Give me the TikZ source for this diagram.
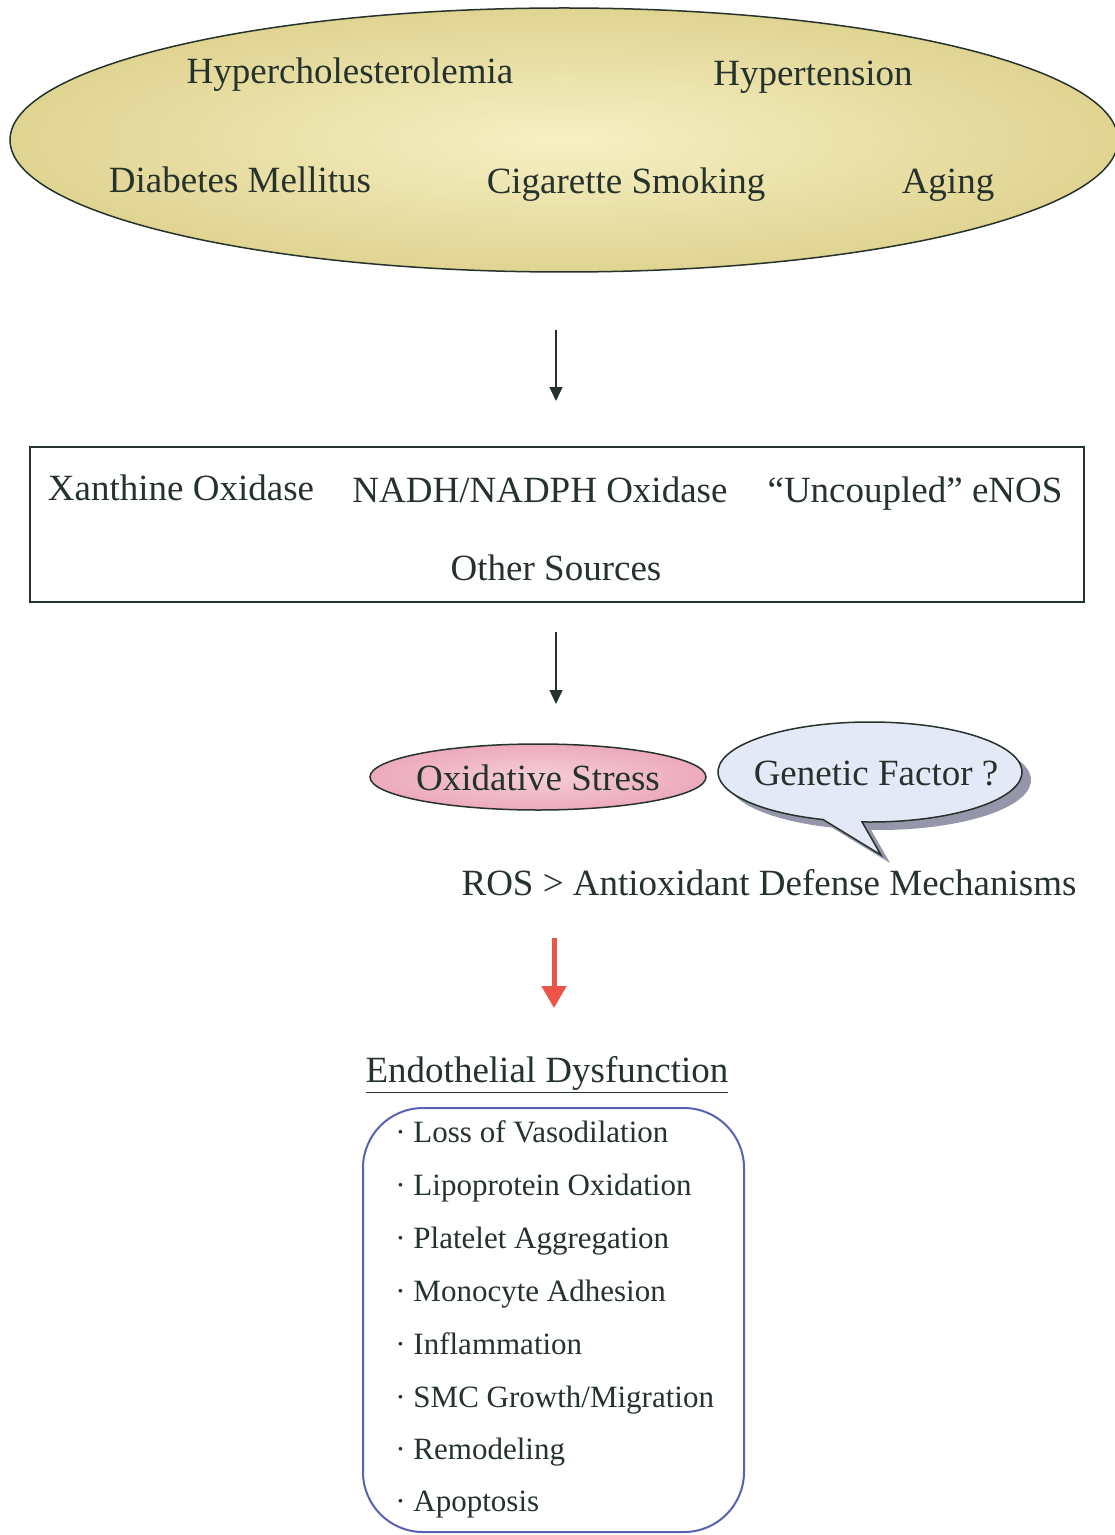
\documentclass[tikz,border=0pt]{standalone}
\usepackage{fontspec}
\setmainfont{Liberation Serif}
\usetikzlibrary{arrows.meta}

\definecolor{ink}{RGB}{38,50,44}
\definecolor{khakilight}{RGB}{246,240,196}
\definecolor{khakidark}{RGB}{224,212,146}
\definecolor{roselight}{RGB}{246,206,216}
\definecolor{rose}{RGB}{236,170,188}
\definecolor{sky}{RGB}{228,233,247}
\definecolor{shadowgray}{RGB}{150,150,170}
\definecolor{listblue}{RGB}{88,98,178}
\definecolor{arrowred}{RGB}{236,84,72}

\tikzset{
  lbl/.style={text=ink, inner sep=0pt, anchor=base, font=\fontsize{18.5}{22}\selectfont},
  item/.style={text=ink, inner sep=0pt, anchor=base west, font=\fontsize{15.5}{19}\selectfont},
  flow/.style={draw=ink, line width=0.75pt, -{Triangle[width=6.5pt,length=7pt]}},
  hot/.style={draw=arrowred, line width=2.5pt, -{Triangle[width=12pt,length=11pt]}}
}

\begin{document}
\begin{tikzpicture}[x=0.5pt,y=-0.5pt]
   \useasboundingbox (0,0) rectangle (1114,1535);
   \coordinate (risk) at (564,140);
   \coordinate (stress) at (538,777);
   \coordinate (gene) at (870,772);
   \coordinate (tip) at (881,855);

   % risk factors
   \shadedraw [draw=ink, line width=0.75pt, inner color=khakilight, outer color=khakidark] (risk) ellipse [x radius=554, y radius=132];
   \node [lbl] (hyperchol) at (350,84) {Hypercholesterolemia};
   \node [lbl] (hypertens) at (813,86) {Hypertension};
   \node [lbl] (diabetes) at (240,193) {Diabetes Mellitus};
   \node [lbl] (smoking) at (626,194) {Cigarette Smoking};
   \node [lbl] (aging) at (948,194) {Aging};

   \coordinate (a1s) at (556,330);
   \coordinate (a1e) at (556,401);
   \draw [flow] (a1s) -- (a1e);

   % sources
   \draw [ink, line width=0.75pt] (30,447) rectangle (1084,602);
   \node [lbl] (xanthine) at (181,500) {Xanthine Oxidase};
   \node [lbl] (nadph) at (540,502) {NADH/NADPH Oxidase};
   \node [lbl] (enos) at (915,502) {“Uncoupled” eNOS};
   \node [lbl] (other) at (556,580) {Other Sources};

   \coordinate (a2s) at (556,632);
   \coordinate (a2e) at (556,704);
   \draw [flow] (a2s) -- (a2e);

   % oxidative stress
   \shadedraw [draw=ink, line width=0.75pt, inner color=roselight, outer color=rose] (stress) ellipse [x radius=168, y radius=33];
   \node [lbl] (oxstress) at (538,790) {Oxidative Stress};

   \fill [shadowgray] ([shift={(9,8)}]tip) -- ([shift={(93:152 and 50)},shift={(9,8)}]gene) arc (93:-252:152 and 50) -- cycle;
   \filldraw [draw=ink, line width=0.75pt, fill=sky] (tip) -- ([shift={(93:152 and 50)}]gene) arc (93:-252:152 and 50) -- cycle;
   \node [lbl] (genetic) at (876,785) {Genetic Factor ?};

   \node [lbl] (ros) at (769,895) {ROS > Antioxidant Defense Mechanisms};

   \coordinate (a3s) at (554,938);
   \coordinate (a3e) at (554,1008);
   \draw [hot] (a3s) -- (a3e);

   % endothelial dysfunction
   \node [lbl] (endo) at (547,1082) {\underline{Endothelial Dysfunction}};
   \draw [listblue, line width=1pt, rounded corners=30pt] (363,1108) rectangle (744,1532);
   \node [item] (vaso) at (395,1142) {· Loss of Vasodilation};
   \node [item] (lipo) at (395,1195) {· Lipoprotein Oxidation};
   \node [item] (plate) at (395,1248) {· Platelet Aggregation};
   \node [item] (mono) at (395,1301) {· Monocyte Adhesion};
   \node [item] (infl) at (395,1354) {· Inflammation};
   \node [item] (smc) at (395,1407) {· SMC Growth/Migration};
   \node [item] (remod) at (395,1459) {· Remodeling};
   \node [item] (apop) at (395,1511) {· Apoptosis};

\end{tikzpicture}
\end{document}
